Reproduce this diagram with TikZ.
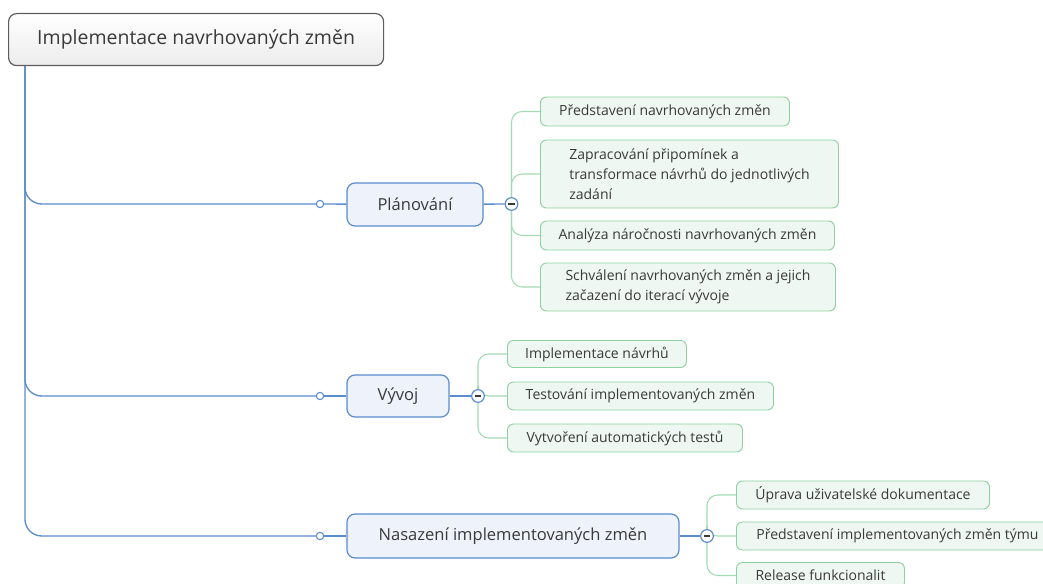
\documentclass[tikz,border=0pt]{standalone}
\usepackage{fontspec}
\setmainfont{Open Sans}
\usetikzlibrary{backgrounds}
\definecolor{textgray}{HTML}{3A3A3A}
\definecolor{rootline}{HTML}{5E5E5E}
\definecolor{rootfill}{HTML}{ECECEC}
\definecolor{topicline}{HTML}{5B8CCB}
\definecolor{topicfill}{HTML}{EDF2FB}
\definecolor{subline}{HTML}{8FD0A2}
\definecolor{subfill}{HTML}{EEF7F1}
\definecolor{twigline}{HTML}{A3DAB2}
\begin{document}
\begin{tikzpicture}[x=0.75pt,y=-0.75pt,
  sz/.style 2 args={minimum width=#1*0.75pt, minimum height=#2*0.75pt},
  rootbox/.style={draw=rootline, line width=0.9pt, rounded corners=6pt,
    top color=white, bottom color=rootfill, inner sep=0pt, text=textgray,
    font=\fontsize{14.6}{17}\selectfont},
  topic/.style={draw=topicline, line width=0.9pt, rounded corners=6pt,
    fill=topicfill, inner sep=0pt, text=textgray,
    font=\fontsize{12.4}{15}\selectfont},
  sub/.style={draw=subline, line width=0.7pt, rounded corners=4.5pt,
    fill=subfill, inner sep=0pt, text=textgray, anchor=west,
    font=\fontsize{10.5}{15}\selectfont},
  subwrap/.style={sub, align=left},
  trunk/.style={draw=topicline, line width=1pt, rounded corners=12.5pt},
  link/.style={draw=topicline, line width=1pt},
  twig/.style={draw=twigline, line width=0.8pt, rounded corners=8pt},
  knob/.style={circle, draw=topicline, fill=white, line width=0.8pt,
    inner sep=0pt, minimum size=5.5pt},
  fold/.style={circle, draw=topicline, fill=white, line width=0.9pt,
    inner sep=0pt, minimum size=9.5pt,
    path picture={\draw[line width=1.1pt, draw=textgray]
      ([xshift=-2.3pt]path picture bounding box.center) --
      ([xshift=2.3pt]path picture bounding box.center);}},
]
\path[use as bounding box, clip] (0,0) rectangle (1043,584);

% central topic
\node[rootbox, sz={375}{52}, anchor=north west] (root) at (8,13)
  {Implementace navrhovaných změn};
\coordinate (stemx) at (25,0);
\coordinate (stem) at (root.south -| stemx);

% main topics with their joints
\node[knob] (k1) at (320,204) {};
\node[topic, sz={136}{43}] (plan) at (415,204.5) {Plánování};
\node[fold] (f1) at (511.5,204) {};

\node[knob] (k2) at (320,396) {};
\node[topic, sz={102}{42}] (dev) at (398,396) {Vývoj};
\node[fold] (f2) at (478,396) {};

\node[knob] (k3) at (320,536) {};
\node[topic, sz={332}{44}] (depl) at (513,536) {Nasazení implementovaných změn};
\node[fold] (f3) at (707,536) {};

% subtopics of Plánování
\node[sub, sz={249}{29}] (p1) at (540,111.5) {Představení navrhovaných změn};
\node[subwrap, sz={298}{68}] (p2) at (540,174)
  {Zapracování připomínek a\\transformace návrhů do jednotlivých\\zadání};
\node[sub, sz={294}{29}] (p3) at (540,235.5) {Analýza náročnosti navrhovaných změn};
\node[subwrap, sz={295}{48}] (p4) at (540,287)
  {Schválení navrhovaných změn a jejich\\začazení do iterací vývoje};

% subtopics of Vývoj
\node[sub, sz={179}{27}] (d1) at (507,354) {Implementace návrhů};
\node[sub, sz={266}{28}] (d2) at (507,396) {Testování implementovaných změn};
\node[sub, sz={235}{28}] (d3) at (507,438) {Vytvoření automatických testů};

% subtopics of Nasazení
\node[sub, sz={253}{28}] (n1) at (736,495) {Úprava uživatelské dokumentace};
\node[sub, sz={322}{28}] (n2) at (736,536) {Představení implementovaných změn týmu};
\node[sub, sz={168}{26}] (n3) at (736,575.5) {Release funkcionalit};

\begin{scope}[on background layer]
  % trunk from the central topic to each main topic
  \draw[trunk] (stem) |- (k1);
  \draw[trunk] (stem) |- (k2);
  \draw[trunk] (stem) |- (k3);
  \draw[link] (k1) -- (plan);
  \draw[link] (k2) -- (dev);
  \draw[link] (k3) -- (depl);
  \draw[link] (plan) -- (f1);
  \draw[link] (dev) -- (f2);
  \draw[link] (depl) -- (f3);
  % branches to the subtopics
  \foreach \s in {p1,p2,p3,p4} \draw[twig] (f1.center) |- (\s.west);
  \foreach \s in {d1,d2,d3} \draw[twig] (f2.center) |- (\s.west);
  \foreach \s in {n1,n2,n3} \draw[twig] (f3.center) |- (\s.west);
\end{scope}
\end{tikzpicture}
\end{document}
